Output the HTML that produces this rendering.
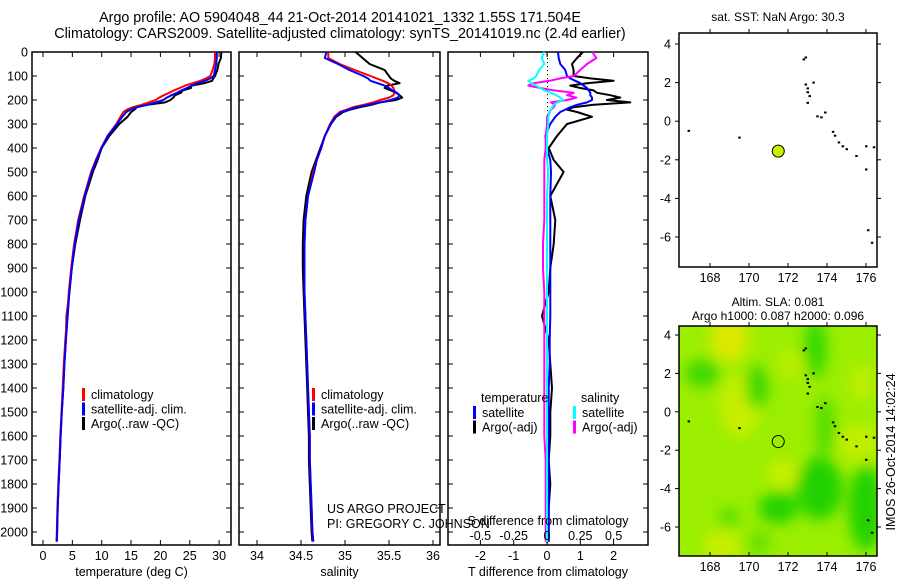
<!DOCTYPE html>
<html><head><meta charset="utf-8">
<style>
body{margin:0;background:#fff;}
svg{display:block;font-family:"Liberation Sans",sans-serif;}
</style></head>
<body>
<svg id="chart" width="900" height="580" viewBox="0 0 900 580">
<defs>
<filter id="blur" x="-50%" y="-50%" width="200%" height="200%"><feGaussianBlur stdDeviation="7"/></filter>
<clipPath id="mapclip"><rect x="679" y="326" width="198" height="230"/></clipPath>
</defs>
<g id="titles" font-size="14.3" fill="#000" text-anchor="middle">
<text x="340" y="22">Argo profile: AO 5904048_44 21-Oct-2014 20141021_1332 1.55S 171.504E</text>
<text x="340" y="38">Climatology: CARS2009. Satellite-adjusted climatology: synTS_20141019.nc (2.4d earlier)</text>
</g>
<g id="layer"></g>
</svg>
<script>
// ---------- data ----------
const depths = [0,25,50,75,100,110,120,130,140,150,160,170,180,190,200,210,220,230,240,250,270,300,350,400,450,500,600,700,800,900,1000,1100,1200,1300,1400,1500,1600,1700,1800,1900,2000,2040];
const tempClim = [29.3,29.3,29.2,28.9,28.5,27.8,26.8,25.5,24.2,23.3,22.3,21.5,20.6,19.8,19.2,18.0,16.8,15.3,14.3,13.7,13.2,12.5,11.0,9.9,9.0,8.2,7.0,6.0,5.3,4.8,4.4,4.1,3.8,3.55,3.35,3.15,2.95,2.8,2.6,2.45,2.35,2.3];
const tempSat = [29.6,29.6,29.5,29.3,29.1,28.5,27.6,26.4,25.3,24.5,23.6,22.8,21.9,21.1,20.5,19.2,17.8,16.0,14.9,14.2,13.5,12.6,11.0,10.0,9.1,8.3,7.1,6.1,5.4,4.9,4.5,4.2,3.9,3.65,3.45,3.2,3.0,2.85,2.65,2.5,2.4,2.35];
const tempArgo = [30.4,30.3,29.9,29.7,29.3,29.0,28.8,27.5,25.3,25.2,23.8,23.5,22.5,22.2,21.7,20.8,17.8,16.0,15.6,15.0,14.4,13.0,11.3,10.0,9.3,8.5,7.2,6.3,5.5,4.9,4.5,4.0,3.9,3.65,3.45,3.2,3.0,2.85,2.65,2.5,2.4,2.35];
const salClim = [34.81,34.81,34.94,35.11,35.29,35.36,35.43,35.49,35.53,35.55,35.56,35.56,35.55,35.50,35.40,35.32,35.21,35.09,35.02,34.94,34.88,34.83,34.77,34.73,34.68,34.64,34.58,34.55,34.54,34.54,34.54,34.55,34.56,34.57,34.58,34.59,34.60,34.60,34.61,34.62,34.63,34.64];
const salSat = [34.79,34.77,34.92,35.05,35.21,35.26,35.29,35.37,35.45,35.50,35.54,35.59,35.62,35.60,35.52,35.40,35.26,35.13,35.05,34.96,34.89,34.84,34.77,34.73,34.68,34.65,34.58,34.55,34.54,34.54,34.54,34.55,34.56,34.57,34.58,34.59,34.60,34.60,34.61,34.62,34.63,34.64];
const salArgo = [35.12,35.20,35.28,35.45,35.50,35.52,35.56,35.62,35.48,35.45,35.52,35.58,35.62,35.65,35.58,35.40,35.30,35.17,35.06,34.98,34.90,34.84,34.77,34.72,34.67,34.62,34.56,34.53,34.52,34.52,34.53,34.54,34.55,34.56,34.57,34.58,34.59,34.59,34.60,34.61,34.62,34.63];
const tDiffArgo = [1.08,0.9,0.75,0.8,0.8,1.3,2.0,1.2,0.7,1.0,1.4,1.5,1.9,2.2,1.8,2.5,1.4,0.8,0.6,0.9,1.35,0.6,0.3,0.05,0.2,0.5,0.1,0.25,0.2,0.1,0.05,-0.15,0.05,0.1,0.15,0.1,0.1,0.05,0.1,0.05,0.05,0.05];
const tDiffSat = [0.33,0.35,0.4,0.55,0.6,0.7,0.85,1.0,1.1,1.2,1.25,1.3,1.3,1.35,1.35,1.2,0.9,0.7,0.55,0.4,0.25,0.1,-0.05,0.0,0.1,0.12,0.1,0.1,0.1,0.1,0.1,0.1,0.08,0.08,0.05,0.05,0.05,0.05,0.05,0.05,0.05,0.05];
const sDiffArgo = [0.34,0.37,0.3,0.25,0.2,0.1,0.02,-0.1,-0.14,-0.05,0.05,0.2,0.15,0.22,0.15,0.03,0.06,0.05,0.03,0.02,0,0,-0.01,-0.01,-0.02,-0.02,-0.02,-0.02,-0.03,-0.03,-0.02,-0.02,-0.02,-0.02,-0.02,-0.02,-0.02,-0.01,-0.01,-0.01,-0.01,-0.01];
const sDiffSat = [-0.02,-0.04,-0.02,-0.06,-0.08,-0.1,-0.14,-0.12,-0.08,-0.05,-0.02,0.03,0.07,0.1,0.12,0.08,0.05,0.04,0.03,0.02,0.01,0.01,0,0,0,0.01,0,0,0,0,0,0,0,0,0,0,0,0,0,0,0,0];
const depthTicks = [0,100,200,300,400,500,600,700,800,900,1000,1100,1200,1300,1400,1500,1600,1700,1800,1900,2000];
const tempTicks = [0,5,10,15,20,25,30];
const salTicks = [34,34.5,35,35.5,36];
const tDiffTicks = [-2,-1,0,1,2];
const sDiffTicks = [-0.5,-0.25,0,0.25,0.5];
const sDiffTickLabels = ["-0.5","-0.25","0","0.25","0.5"];
const lonTicks = [168,170,172,174,176];
const latTicks = [4,2,0,-2,-4,-6];
const floatLon = [171.5];
const floatLat = [-1.55];
const coastLon = [166.9,169.5,172.8,172.9,173.0,173.1,173.0,173.3,173.5,173.7,173.9,174.3,174.4,174.6,174.8,175.0,175.5,176.0,176.4,176.0,176.1,176.3,172.9,173.0];
const coastLat = [-0.5,-0.85,3.2,1.9,1.5,1.3,0.95,2.0,0.25,0.2,0.45,-0.55,-0.75,-1.1,-1.3,-1.45,-1.8,-1.3,-1.35,-2.5,-5.65,-6.3,3.3,1.7];

// ---------- helpers ----------
const NS='http://www.w3.org/2000/svg';
const layer=document.getElementById('layer');
function mk(tag,attrs,parent){const e=document.createElementNS(NS,tag);for(const k in attrs)e.setAttribute(k,attrs[k]);(parent||layer).appendChild(e);return e;}
const yD = d => 52 + d*0.24;
const PB = 545;

function panel(name,x0,x1,xs,ticks,labels,xlabel){
  const g=mk('g',{});
  
  
  const r=mk('rect',{x:x0,y:52,width:x1-x0,height:PB-52,fill:'none',stroke:'#000','stroke-width':1.5},g);
  
  
  depthTicks.forEach(d=>{
    mk('line',{x1:x0,x2:x0+5,y1:yD(d),y2:yD(d),stroke:'#000'},g);
    mk('line',{x1:x1-5,x2:x1,y1:yD(d),y2:yD(d),stroke:'#000'},g);
  });
  ticks.forEach((t,i)=>{
    const x=xs(t);
    mk('line',{x1:x,x2:x,y1:PB,y2:PB-5,stroke:'#000'},g);
    mk('line',{x1:x,x2:x,y1:52,y2:57,stroke:'#000'},g);
    if(labels){const tx=mk('text',{x:x,y:560,'font-size':12.5,'text-anchor':'middle'},g);tx.textContent=labels[i];
      
      }
  });
  if(xlabel){const t=mk('text',{x:(x0+x1)/2,y:576,'font-size':12.5,'text-anchor':'middle'},g);t.textContent=xlabel;
    
    }
  return g;
}
function line(vals,xs,color,name,parent){
  const pts=vals.map((v,i)=>xs(v).toFixed(1)+','+yD(depths[i]).toFixed(1)).join(' ');
  const p=mk('polyline',{points:pts,fill:'none',stroke:color,'stroke-width':2,'stroke-linejoin':'round'},parent);
  
  
}
function legend(x,y,entries,parent){
  entries.forEach((e,i)=>{
    mk('rect',{x:x,y:y+i*14.5-10,width:3,height:13,fill:e[1]},parent);
    const t=mk('text',{x:x+9,y:y+i*14.5+1,'font-size':12.5},parent);t.textContent=e[0];
    
    
  });
}

// depth axis labels
depthTicks.forEach(d=>{
  const t=mk('text',{x:28,y:yD(d)+4.5,'font-size':12.5,'text-anchor':'end'});t.textContent=d;
  
  
});

// panel 1 temperature
const xT = v => 43 + v*5.87;
const p1=panel('temperature-panel',32,231,xT,tempTicks,tempTicks,'temperature (deg C)');
line(tempArgo,xT,'#000','temp-argo-line',p1);
line(tempClim,xT,'#f00','temp-climatology-line',p1);
line(tempSat,xT,'#00f','temp-satellite-line',p1);
legend(82,398,[['climatology','#f00'],['satellite-adj. clim.','#00f'],['Argo(..raw -QC)','#000']],p1);

// panel 2 salinity
const xS = v => 257 + (v-34)*88;
const p2=panel('salinity-panel',239,440,xS,salTicks,salTicks,'salinity');
line(salArgo,xS,'#000','sal-argo-line',p2);
line(salClim,xS,'#f00','sal-climatology-line',p2);
line(salSat,xS,'#00f','sal-satellite-line',p2);
legend(312,398,[['climatology','#f00'],['satellite-adj. clim.','#00f'],['Argo(..raw -QC)','#000']],p2);
[['US ARGO PROJECT',513],['PI: GREGORY C. JOHNSON',528]].forEach(a=>{
  const t=mk('text',{x:327,y:a[1],'font-size':12.5},p2);t.textContent=a[0];
  
  
});

// panel 3 differences
const xTD = v => 547 + v*33.3;
const xSD = v => 547 + v*133.3;
const p3=panel('difference-panel',448,648,xTD,tDiffTicks,tDiffTicks,'T difference from climatology');
for(let y=54;y<PB;y+=4){mk('rect',{x:547,y:y,width:1,height:1.2,fill:'#000'},p3);}
line(tDiffArgo,xTD,'#000','tdiff-argo-line',p3);
line(tDiffSat,xTD,'#00f','tdiff-satellite-line',p3);
line(sDiffArgo,xSD,'#f0f','sdiff-argo-line',p3);
line(sDiffSat,xSD,'#0ff','sdiff-satellite-line',p3);
sDiffTicks.forEach((v,i)=>{const t=mk('text',{x:xSD(v),y:540,'font-size':12.5,'text-anchor':'middle'},p3);t.textContent=sDiffTickLabels[i];
  
  });
{const t=mk('text',{x:548,y:525,'font-size':12.5,'text-anchor':'middle'},p3);t.textContent='S difference from climatology';
 
 }
{const t=mk('text',{x:481,y:402,'font-size':12.5},p3);t.textContent='temperature';
 
 
 const t2=mk('text',{x:581,y:402,'font-size':12.5},p3);t2.textContent='salinity';
 
 }
legend(473,416,[['satellite','#00f'],['Argo(-adj)','#000']],p3);
legend(573,416,[['satellite','#0ff'],['Argo(-adj)','#f0f']],p3);

// ---------- maps ----------
function map(name,y0,y1,lat4y,lat6y,title,sla){
  const g=mk('g',{});
  
  
  const xL = v => 710 + (v-168)*19.5;
  const yL = v => lat4y + (4-v)*(lat6y-lat4y)/10;
  if(sla){
    const bg=mk('g',{'clip-path':'url(#mapclip)'},g);
    mk('rect',{x:679,y:y0,width:198,height:y1-y0,fill:'#9bee00'},bg);
    const bl=mk('g',{filter:'url(#blur)'},bg);
    const blobs=[[169,3.8,1.0,1.2,'#dde800'],[169.5,0.3,1.0,1.6,'#c8ee00'],[171.8,-3.2,0.9,0.7,'#c8ee00'],[175.6,-1.6,1.1,1.0,'#c0ee00'],[168.6,-7,1,0.8,'#c8ee00'],[175.8,1.5,0.6,1,'#bdee00'],[172.2,2.5,0.8,0.8,'#b8ee00'],
      [167.6,2.0,0.9,0.7,'#3cd800'],[170.4,1.3,0.6,1.1,'#3cd800'],[173.4,3.3,0.6,1.5,'#35d800'],[173.9,-0.8,0.5,1.6,'#55dd00'],[173.6,-4.0,1.2,1.6,'#22d200'],[171.5,-5.0,1.0,0.8,'#22d200'],[176.0,-5.0,0.9,2.2,'#22d200'],[169.0,-5.5,0.5,0.5,'#55dd00'],[170.5,-6.8,0.6,0.6,'#66e000']];
    blobs.forEach(b=>mk('ellipse',{cx:xL(b[0]),cy:yL(b[1]),rx:b[2]*19.5,ry:b[3]*19.5,fill:b[4]},bl));
  }
  coastLon.forEach((lo,i)=>{
    const c=mk('rect',{x:xL(lo)-1,y:yL(coastLat[i])-1,width:2.5,height:2,fill:'#000'},g);
    
    
  });
  floatLon.forEach((lo,i)=>{
    const c=mk('circle',{cx:xL(lo),cy:yL(floatLat[i]),r:6,fill:sla?'none':'#ccee00',stroke:'#000','stroke-width':1},g);
    
    
  });
  mk('rect',{x:679,y:y0,width:198,height:y1-y0,fill:'none',stroke:'#000','stroke-width':1.5},g);
  lonTicks.forEach(v=>{const x=xL(v);
    mk('line',{x1:x,x2:x,y1:y1,y2:y1-4,stroke:'#000'},g);
    mk('line',{x1:x,x2:x,y1:y0,y2:y0-4,stroke:'#000'},g);
    const t=mk('text',{x:x,y:y1+15,'font-size':12.5,'text-anchor':'middle'},g);t.textContent=v;
    
    });
  latTicks.forEach(v=>{const y=yL(v);
    mk('line',{x1:679,x2:675,y1:y,y2:y,stroke:'#000'},g);
    mk('line',{x1:877,x2:881,y1:y,y2:y,stroke:'#000'},g);
    const t=mk('text',{x:671,y:y+4.5,'font-size':12.5,'text-anchor':'end'},g);t.textContent=v;
    
    });
  title.forEach((s,i)=>{const t=mk('text',{x:778,y:(sla?y0-20:y0-12)+i*14,'font-size':12,'text-anchor':'middle'},g);t.textContent=s;
    
    });
}
map('sst-map',33,267,44,237,['sat. SST: NaN Argo: 30.3'],false);
map('sla-map',326,556,335,527,['Altim. SLA: 0.081','Argo h1000: 0.087 h2000: 0.096'],true);
{const t=mk('text',{x:0,y:0,'font-size':12.5,'text-anchor':'middle',transform:'translate(895,452) rotate(-90)'});t.textContent='IMOS 26-Oct-2014 14:02:24';
 
 }
</script>
</body></html>
